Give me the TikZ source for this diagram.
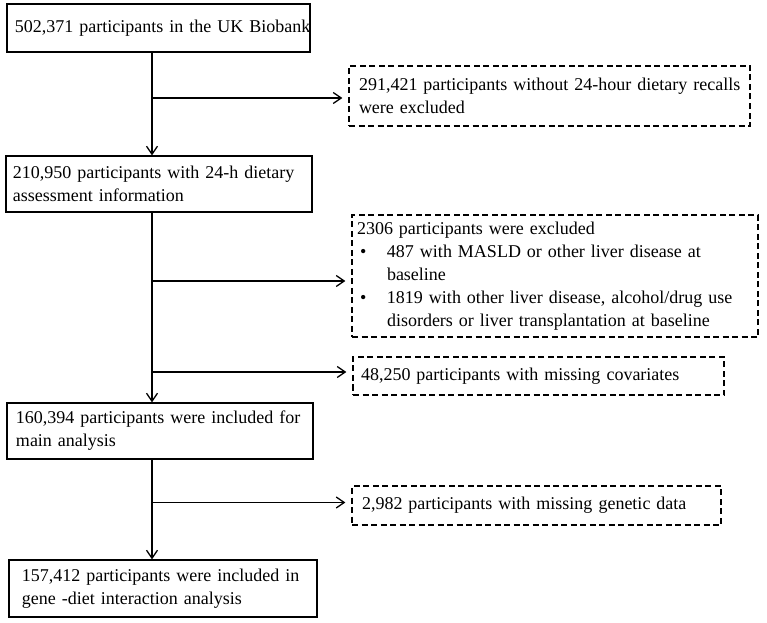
\documentclass[tikz,border=0pt]{standalone}
\usepackage{fontspec}
\setmainfont{Liberation Serif}
\usetikzlibrary{arrows.meta}
\newcommand{\oneline}[1]{\mbox{#1}}
\begin{document}
\begin{tikzpicture}[x=1bp,y=-1bp,
  boxfont/.style={font=\fontsize{18bp}{23bp}\selectfont},
  solidbox/.style={draw, line width=1.3bp, rectangle, align=left, inner ysep=0pt, boxfont},
  dashbox/.style={draw, line width=1.3bp, dash pattern=on 6bp off 3.5bp, rectangle, align=left, inner ysep=0pt, boxfont},
  arr/.style={line width=1.3bp, -{Straight Barb[length=8bp,width=11bp,line width=1.3bp]}},
  side/.style={arr, shorten >=6bp}
]
\fill[white] (0,0) rectangle (767,623);
\useasboundingbox (0,0) rectangle (767,623);

\node[solidbox, minimum width=303bp, minimum height=48bp, inner xsep=8bp, text width=287bp] (b1) at (158.5,28)
  {\oneline{502,371 participants in the UK Biobank}};
\node[solidbox, minimum width=306bp, minimum height=56bp, inner xsep=7bp, text width=292bp] (b2) at (159,184)
  {\oneline{210,950 participants with 24-h dietary}\\\oneline{assessment information}};
\node[solidbox, minimum width=306bp, minimum height=56bp, inner xsep=9bp, text width=288bp] (b3) at (160,431)
  {\oneline{160,394 participants were included for}\\\oneline{main analysis}};
\node[solidbox, minimum width=308bp, minimum height=57bp, inner xsep=13bp, text width=282bp] (b4) at (163,588.5)
  {\oneline{157,412 participants were included in}\\\oneline{gene -diet interaction analysis}};

\node[dashbox, minimum width=401bp, minimum height=60bp, inner xsep=10bp, text width=381bp] (eA) at (549.5,96)
  {\oneline{291,421 participants without 24-hour dietary recalls}\\\oneline{were excluded}};
\node[dashbox, minimum width=406bp, minimum height=122bp, inner xsep=5bp, text width=396bp] (eB) at (555,276)
  {\oneline{2306 participants were excluded}\\
   \oneline{\hspace*{3bp}\makebox[27bp][l]{•}487 with MASLD or other liver disease at}\\
   \oneline{\hspace*{30bp}baseline}\\
   \oneline{\hspace*{3bp}\makebox[27bp][l]{•}1819 with other liver disease, alcohol/drug use}\\
   \oneline{\hspace*{30bp}disorders or liver transplantation at baseline}};
\node[dashbox, minimum width=371bp, minimum height=38bp, inner xsep=8bp, text width=355bp] (eC) at (538.5,376)
  {\oneline{48,250 participants with missing covariates}};
\node[dashbox, minimum width=369bp, minimum height=39bp, inner xsep=10bp, text width=349bp] (eD) at (536.5,505.5)
  {\oneline{2,982 participants with missing genetic data}};

\coordinate (j1) at (152,98);
\coordinate (j2) at (152,281);
\coordinate (j3) at (152,372);
\coordinate (j4) at (152,502.5);

\draw[arr] (b1.south -| j1) -- (b2.north -| j1);
\draw[arr] (b2.south -| j2) -- (b3.north -| j2);
\draw[arr] (b3.south -| j4) -- (b4.north -| j4);

\draw[side] (j1) -- (j1 -| eA.west);
\draw[side] (j2) -- (j2 -| eB.west);
\draw[side] (j3) -- (j3 -| eC.west);
\draw[side] (j4) -- (j4 -| eD.west);
\end{tikzpicture}
\end{document}
